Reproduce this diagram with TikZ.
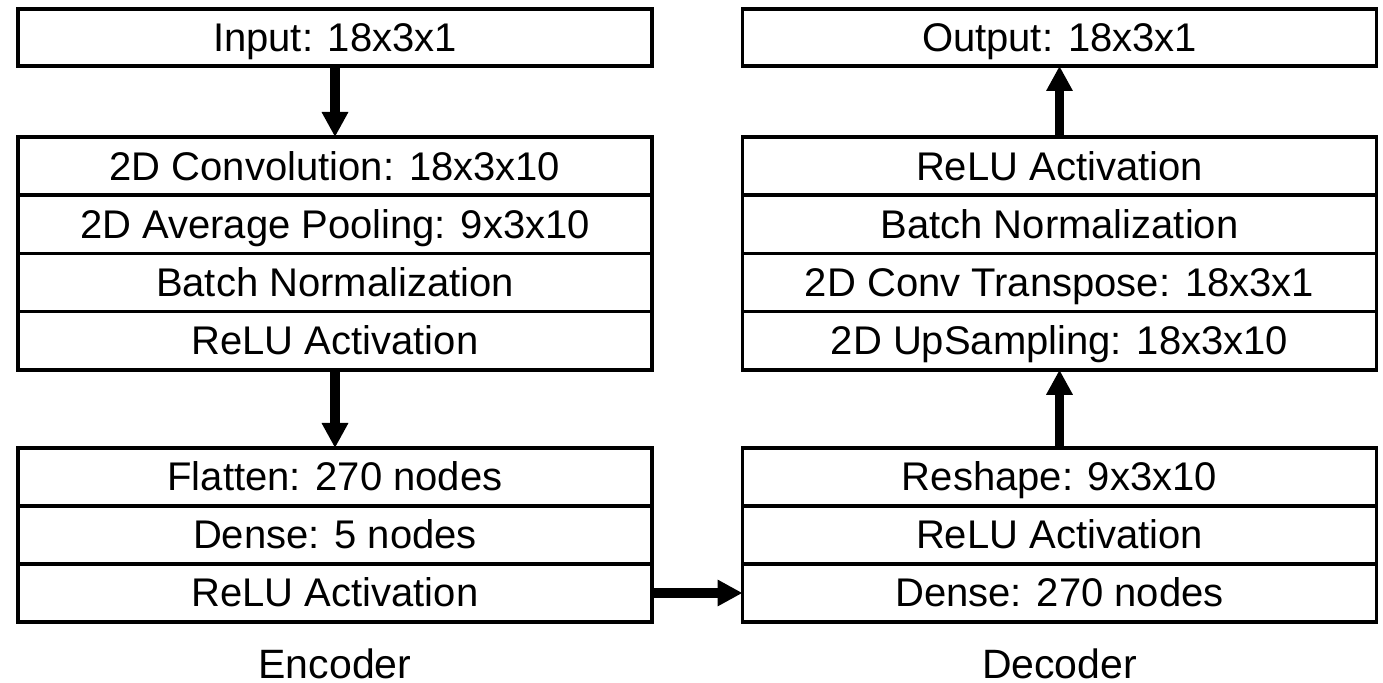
\documentclass[tikz,border=0pt]{standalone}
\usepackage{fontspec}
\setmainfont{Liberation Sans}
\usetikzlibrary{arrows.meta,positioning}

\tikzset{
layer/.style={draw, line width=1.75pt, minimum width=317pt, minimum height=29pt,
  inner sep=0pt, outer sep=0pt, text height=17pt, text depth=3pt,
  font=\fontsize{20}{24}\selectfont},
flow/.style={line width=4.7pt, -{Triangle[length=12.5pt,width=12.5pt]}},
caption/.style={anchor=base, inner sep=0pt, font=\fontsize{20.5}{24}\selectfont},
}

\begin{document}
\begin{tikzpicture}
\useasboundingbox (0,0) rectangle (691.5pt,-341.5pt);
\def\xl{167.5pt}
\def\xr{529.75pt}

% input / output
\node[layer, minimum height=28.5pt] (enc0) at (\xl,-18.75pt) {Input: 18x3x1};
\node[layer, minimum height=28.5pt] (dec0) at (\xr,-18.75pt) {Output: 18x3x1};

% upper blocks
\def\y{-83.05pt}
\foreach \txt [count=\i] in {2D Convolution: 18x3x10, 2D Average Pooling: 9x3x10, Batch Normalization, ReLU Activation} {
\node[layer, minimum height=29.1pt] (enc\i) at (\xl,{\y-(\i-1)*29.1pt}) {\txt};
}
\foreach \txt [count=\i] in {ReLU Activation, Batch Normalization, 2D Conv Transpose: 18x3x1, 2D UpSampling: 18x3x10} {
\node[layer, minimum height=29.1pt] (dec\i) at (\xr,{\y-(\i-1)*29.1pt}) {\txt};
}

% lower blocks
\def\y{-238.5pt}
\foreach \txt [count=\i from 5] in {Flatten: 270 nodes, Dense: 5 nodes, ReLU Activation} {
\node[layer] (enc\i) at (\xl,{\y-(\i-5)*29pt}) {\txt};
}
\foreach \txt [count=\i from 5] in {Reshape: 9x3x10, ReLU Activation, Dense: 270 nodes} {
\node[layer] (dec\i) at (\xr,{\y-(\i-5)*29pt}) {\txt};
}

% arrows
\draw[flow] (enc0) -- (enc1);
\draw[flow] (enc4) -- (enc5);
\draw[flow] (enc7) -- (dec7);
\draw[flow] (dec5) -- (dec4);
\draw[flow] (dec1) -- (dec0);

\node[caption] (enclabel) at (\xl,-339.5pt) {Encoder};
\node[caption] (declabel) at (\xr,-339.5pt) {Decoder};
\end{tikzpicture}
\end{document}
